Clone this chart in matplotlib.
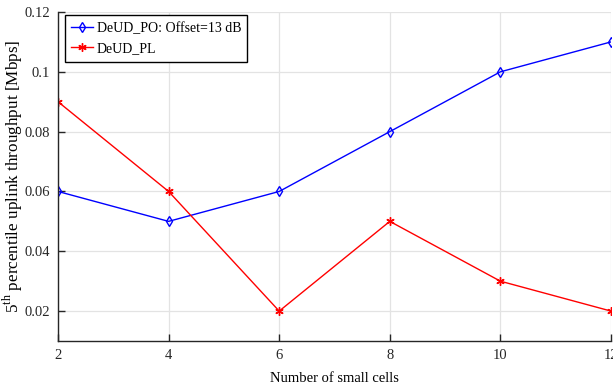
import matplotlib
matplotlib.use("Agg")
import matplotlib.pyplot as plt

x_cells = [2, 4, 6, 8, 10, 12]
deud_po = [0.06, 0.05, 0.06, 0.08, 0.10, 0.11]
deud_pl = [0.09, 0.06, 0.02, 0.05, 0.03, 0.02]
yticks = [0.02, 0.04, 0.06, 0.08, 0.1, 0.12]
ytick_labels = ["0.02", "0.04", "0.06", "0.08", "0.1", "0.12"]
xticks = [2, 4, 6, 8, 10, 12]

plt.rcParams['font.family'] = ['Liberation Serif', 'DejaVu Serif']
plt.rcParams['mathtext.fontset'] = 'custom'
plt.rcParams['mathtext.rm'] = 'Liberation Serif'

fig = plt.figure(figsize=(6.13, 3.92), dpi=100)
ax = fig.add_axes([58/613, (392-341)/392, (611-58)/613, (341-12)/392])

ax.plot(x_cells, deud_po, color='#0000ff', marker='d', markersize=5, markerfacecolor='none',
        markeredgewidth=1, linewidth=1, label='DeUD_PO: Offset=13 dB')
ax.plot(x_cells, deud_pl, color='#ff0000', marker=(6, 2, 0), markersize=6, markeredgewidth=1,
        linewidth=1, label='DeUD_PL')

ax.set_xlim(2, 12)
ax.set_ylim(0.01, 0.12)
ax.set_xticks(xticks)
ax.set_xticklabels([str(v) for v in xticks])
ax.set_yticks(yticks)
ax.set_yticklabels(ytick_labels)
ax.grid(True, color='#e3e3e3', linewidth=0.9)
ax.set_axisbelow(True)
for s in ['top', 'right']:
    ax.spines[s].set_visible(False)
for s in ['left', 'bottom']:
    ax.spines[s].set_color('#262626')
    ax.spines[s].set_linewidth(1.0)
ax.tick_params(direction='in', length=5, width=1, labelsize=10.5, colors='#262626', pad=6)

ax.set_xlabel('Number of small cells', fontsize=10.5, labelpad=7)
ax.set_ylabel(r'5$^{\mathrm{th}}$ percentile uplink throughput [Mbps]', fontsize=12.3)
ax.yaxis.set_label_coords(-0.060, 0.5)

leg = ax.legend(loc='upper left', bbox_to_anchor=(0.006, 1.0), fontsize=10.0, frameon=True,
                fancybox=False, edgecolor='black', framealpha=1, handlelength=1.6,
                borderpad=0.45, labelspacing=0.55, handletextpad=0.25, borderaxespad=0.25)
leg.get_frame().set_linewidth(1.0)

fig.savefig('out.png', dpi=100)
